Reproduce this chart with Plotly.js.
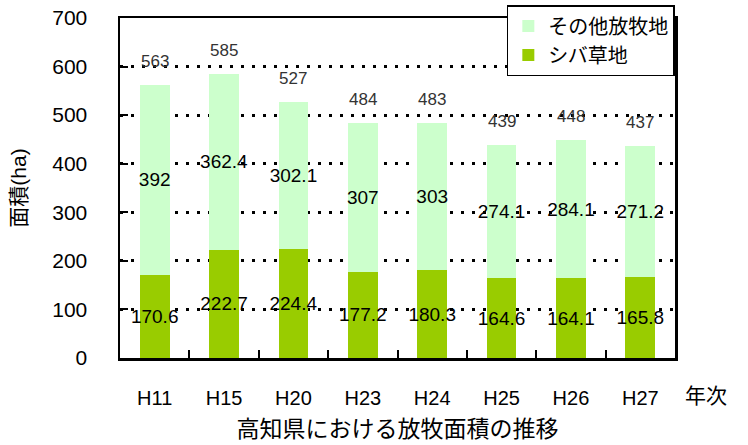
<!DOCTYPE html>
<html>
<head>
<meta charset="utf-8">
<script src="https://cdn.plot.ly/plotly-3.0.1.min.js"></script>
<style>html,body{margin:0;padding:0;background:#fff;}#chart{width:748px;height:445px;}</style>
</head>
<body>
<div id="chart"></div>
<script>
const years = ["H11","H15","H20","H23","H24","H25","H26","H27"];
const shiba = [170.6,222.7,224.4,177.2,180.3,164.6,164.1,165.8];
const other = [392,362.4,302.1,307,303,274.1,284.1,271.2];
const totals = [563,585,527,484,483,439,448,437];

const FONT = '"Liberation Sans", Arial, "Noto Sans CJK JP", sans-serif';

const traces = [
  {type:'bar', name:'シバ草地', x:years, y:shiba,
   marker:{color:'#99cc00'}, text:shiba.map(String),
   textposition:'inside', insidetextanchor:'middle', textangle:0, constraintext:'none',
   textfont:{family:FONT, size:19, color:'#000'}, hoverinfo:'none'},
  {type:'bar', name:'その他放牧地', x:years, y:other,
   marker:{color:'#ccffcc'}, text:other.map(String),
   textposition:'inside', insidetextanchor:'middle', textangle:0, constraintext:'none',
   textfont:{family:FONT, size:19, color:'#000'}, hoverinfo:'none'}
];

const totalAnns = years.map((yr, i) => ({
  x: yr, y: totals[i], xref:'x', yref:'y', text: String(totals[i]),
  showarrow:false, yanchor:'bottom', yshift:12,
  font:{family:FONT, size:17, color:'#333'}
}));

const layout = {
  width:748, height:445,
  margin:{l:120, r:73, t:18, b:87, autoexpand:false},
  paper_bgcolor:'#fff', plot_bgcolor:'#fff',
  font:{family:FONT, color:'#000'},
  barmode:'stack', bargap:0.57,
  showlegend:true,
  legend:{x:0.697, y:1.038, xanchor:'left', yanchor:'top', traceorder:'reversed',
    bgcolor:'#fff', bordercolor:'#000', borderwidth:1.5,
    font:{family:FONT, size:20, color:'#000'}, tracegroupgap:0},
  xaxis:{type:'category', showline:true, linecolor:'#000', linewidth:2.5, mirror:true,
    ticks:'inside', tickson:'boundaries', ticklen:8, tickcolor:'#000', tickwidth:2,
    tickfont:{family:FONT, size:20, color:'#000'}, showgrid:false, ticklabelstandoff:20,
    title:{text:'高知県における放牧面積の推移', font:{family:FONT, size:23, color:'#000'}, standoff:14}},
  yaxis:{range:[0,700], dtick:100, showline:true, linecolor:'#000', linewidth:2.5, mirror:true,
    ticks:'inside', ticklen:8, tickcolor:'#000', tickwidth:2,
    tickfont:{family:FONT, size:21, color:'#000'},
    showgrid:true, gridcolor:'#000', gridwidth:3, griddash:'3px,8px', zeroline:false,
    ticklabelstandoff:26,
    title:{text:'面積(ha)', font:{family:FONT, size:21, color:'#000'}, standoff:20}},
  annotations: totalAnns.concat([{text:'年次', xref:'paper', yref:'paper', x:1.015, y:-0.11, xanchor:'left', yanchor:'middle',
    showarrow:false, font:{family:FONT, size:21, color:'#000'}}])
};

Plotly.newPlot('chart', traces, layout, {displayModeBar:false, staticPlot:true});
</script>
</body>
</html>
